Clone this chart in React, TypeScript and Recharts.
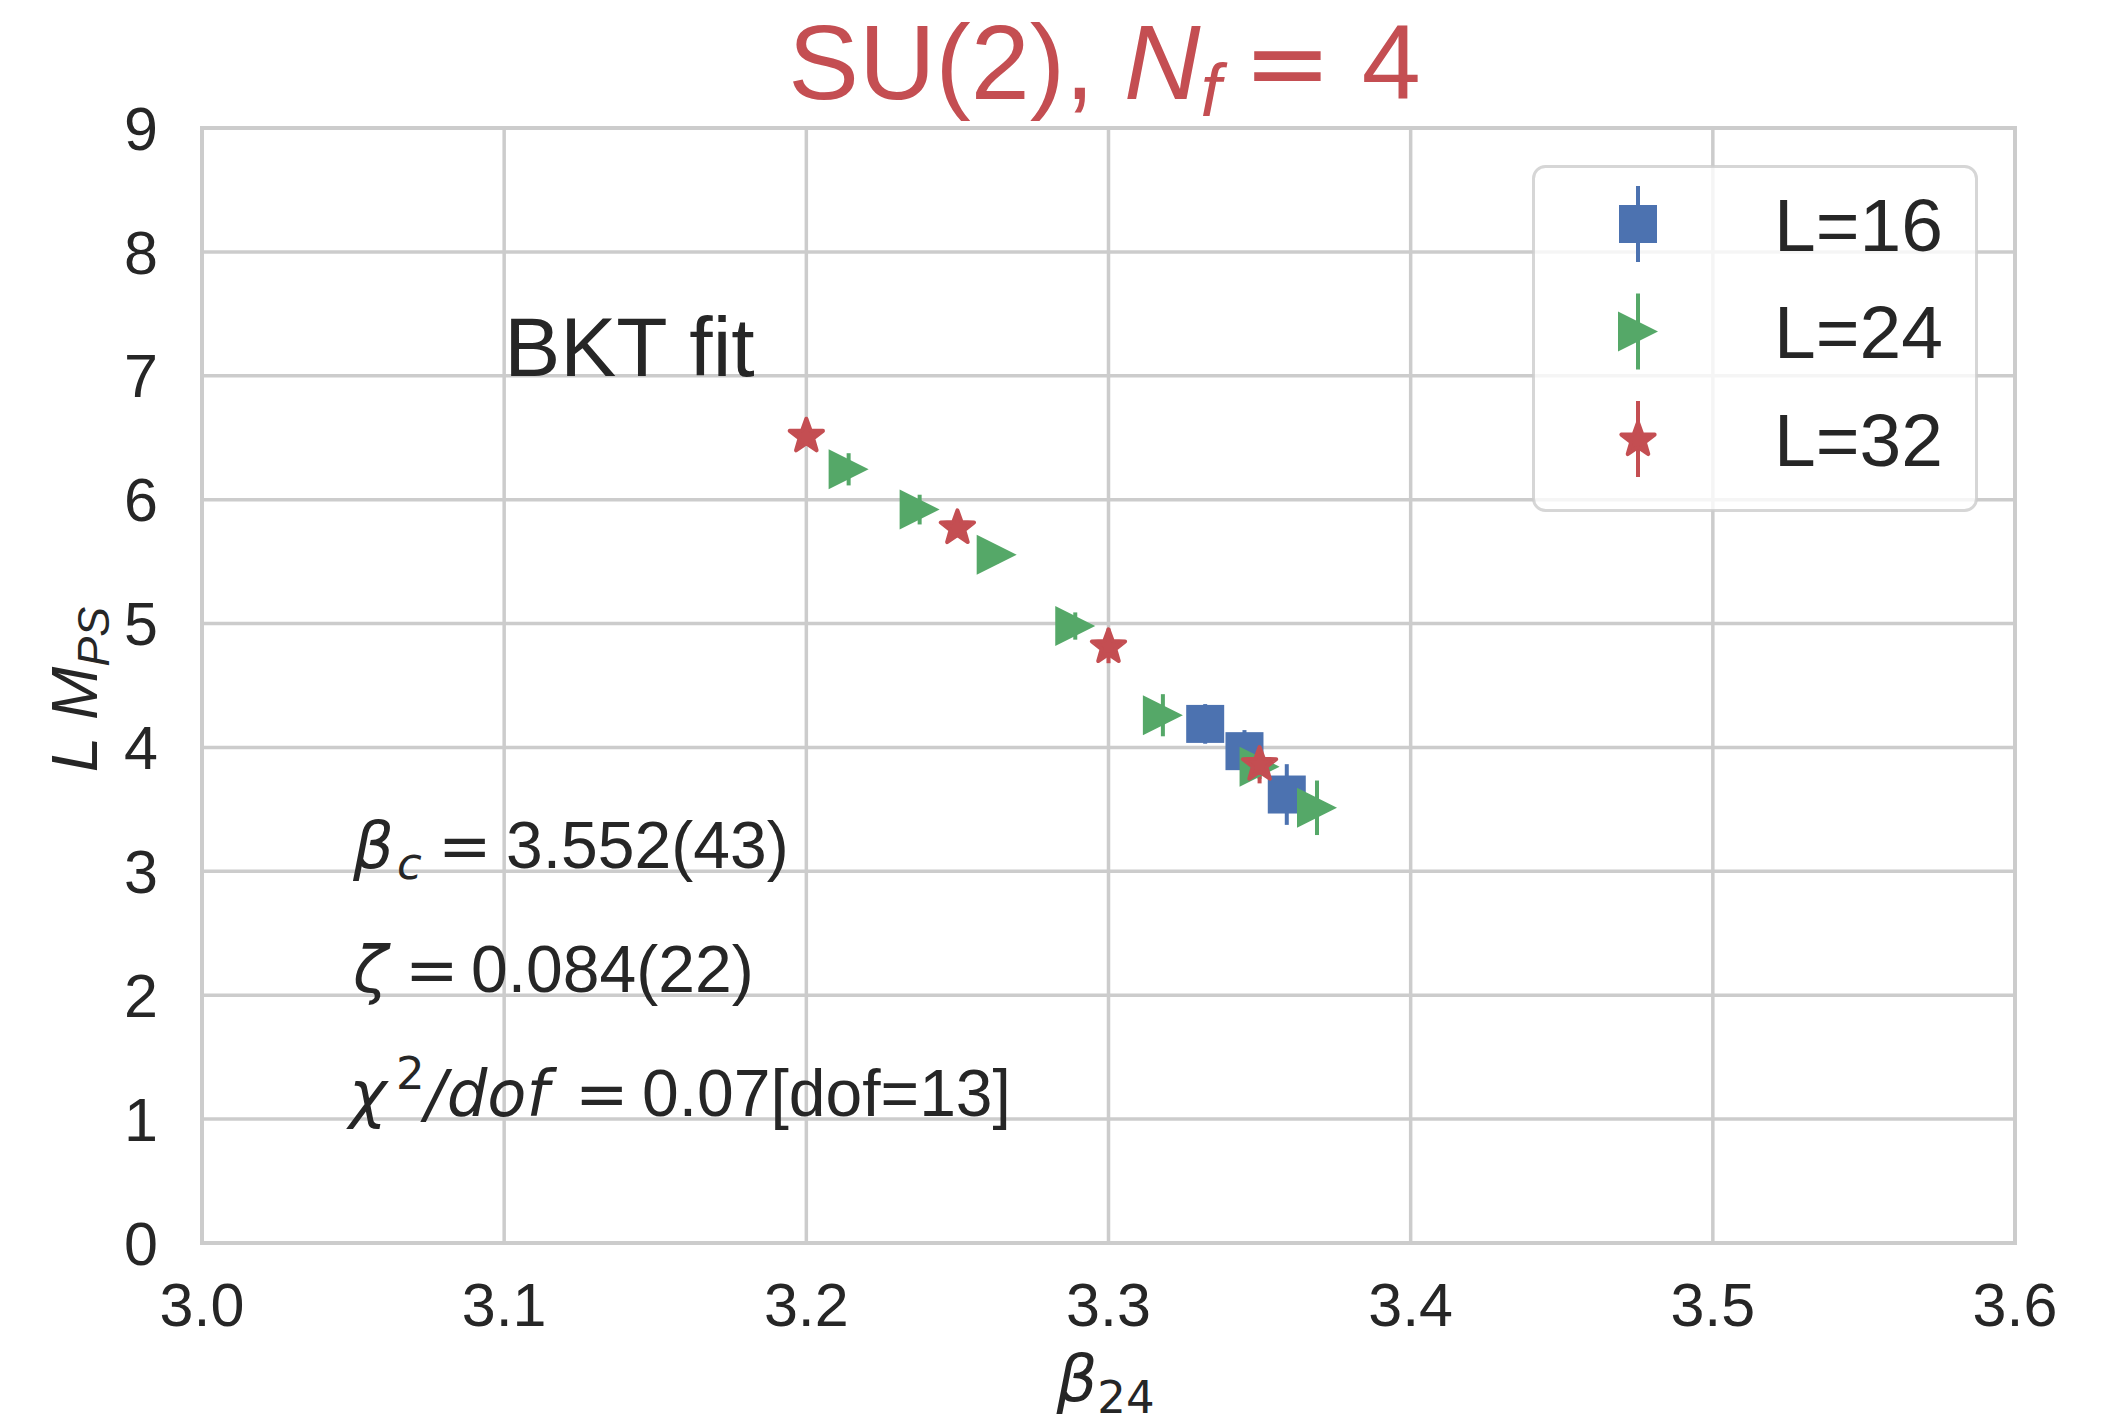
import {
  ScatterChart,
  Scatter,
  XAxis,
  YAxis,
  CartesianGrid,
  ErrorBar,
  ReferenceArea,
  ReferenceDot,
  Legend,
} from 'recharts'

// values
const betaL16 = [3.332, 3.345, 3.359]
const lmpsL16 = [4.19, 3.97, 3.62]
const errL16 = [0.16, 0.17, 0.245]

const betaL24 = [3.214, 3.2375, 3.263, 3.289, 3.318, 3.35, 3.369]
const lmpsL24 = [6.245, 5.92, 5.556, 4.98, 4.26, 3.845, 3.513]
const errL24 = [0.13, 0.12, 0.07, 0.11, 0.17, 0.1, 0.22]

const betaL32 = [3.2, 3.25, 3.3, 3.35]
const lmpsL32 = [6.52, 5.78, 4.82, 3.87]
const errL32 = [0.05, 0.05, 0.14, 0.16]

const xTicks = [3.0, 3.1, 3.2, 3.3, 3.4, 3.5, 3.6]
const yTicks = [0, 1, 2, 3, 4, 5, 6, 7, 8, 9]
const seriesNames = ['L=16', 'L=24', 'L=32']

const BLUE = '#4C72B0'
const GREEN = '#55A868'
const RED = '#C44E52'
const INK = '#262626'
const GRID = '#cccccc'
const FONT = "'Liberation Sans', Arial, sans-serif"
const MATH = "'DejaVu Sans', sans-serif"

const toRows = (xs: number[], ys: number[], es: number[]) =>
  xs.map((x, i) => ({ x, y: ys[i], err: es[i] }))

const dataL16 = toRows(betaL16, lmpsL16, errL16)
const dataL24 = toRows(betaL24, lmpsL24, errL24)
const dataL32 = toRows(betaL32, lmpsL32, errL32)

function starPoints(cx: number, cy: number, r: number, ri: number) {
  const pts: string[] = []
  for (let i = 0; i < 10; i++) {
    const rad = i % 2 === 0 ? r : ri
    const a = -Math.PI / 2 + (i * Math.PI) / 5
    pts.push(`${cx + rad * Math.cos(a)},${cy + rad * Math.sin(a)}`)
  }
  return pts.join(' ')
}

const SquareMark = ({ cx, cy }: any) => (
  <rect x={cx - 19} y={cy - 19} width={38} height={38} fill={BLUE} />
)
const TriangleMark = ({ cx, cy }: any) => (
  <polygon
    points={`${cx + 20},${cy} ${cx - 20},${cy - 20} ${cx - 20},${cy + 20}`}
    fill={GREEN}
  />
)
const StarMark = ({ cx, cy }: any) => (
  <polygon
    points={starPoints(cx, cy + 1, 17.5, 7.2)}
    fill={RED}
    stroke={RED}
    strokeWidth={4}
    strokeLinejoin="round"
  />
)

const marks = [SquareMark, TriangleMark, StarMark]
const markColors = [BLUE, GREEN, RED]

function LegendBox() {
  return (
    <svg width={446} height={347} style={{ display: 'block' }}>
      <rect
        x={1.5}
        y={1.5}
        width={443}
        height={344}
        rx={12}
        fill="rgba(255,255,255,0.8)"
        stroke="rgba(204,204,204,0.8)"
        strokeWidth={3}
      />
      {seriesNames.map((name, i) => {
        const cy = 59 + i * 107.5
        const Mark = marks[i]
        return (
          <g key={name}>
            <line x1={106} x2={106} y1={cy - 38} y2={cy + 38} stroke={markColors[i]} strokeWidth={4} />
            <Mark cx={106} cy={cy} />
            <text x={242} y={cy + 26.5} fontSize={75} fontFamily={FONT} fill={INK}>
              {name}
            </text>
          </g>
        )
      })}
    </svg>
  )
}

const XLabel = ({ viewBox }: any) => {
  const cx = viewBox.x + viewBox.width / 2
  return (
    <text x={cx - 3} y={viewBox.y + 158} textAnchor="middle" fontFamily={MATH} fill={INK} fontSize={64}>
      <tspan fontStyle="italic">β</tspan>
      <tspan fontSize={45} dy={12}>24</tspan>
    </text>
  )
}

const YLabel = ({ viewBox }: any) => {
  const cy = viewBox.y + viewBox.height / 2 + 4
  const bx = 97
  return (
    <text
      x={bx}
      y={cy}
      transform={`rotate(-90, ${bx}, ${cy})`}
      textAnchor="middle"
      fontFamily={FONT}
      fill={INK}
      fontSize={64}
      fontStyle="italic"
    >
      <tspan>{'L M'}</tspan>
      <tspan fontSize={45} dy={12}>PS</tspan>
    </text>
  )
}

const Title = ({ cx, cy }: any) => (
  <text x={cx - 4} y={cy - 29} textAnchor="middle" fill={RED} fontSize={106} fontFamily={FONT}>
    <tspan>{'SU(2), '}</tspan>
    <tspan fontStyle="italic">N</tspan>
    <tspan fontStyle="italic" fontSize={74} dy={17}>f</tspan>
    <tspan fontFamily={MATH} dy={-17} dx={22}>=</tspan>
    <tspan dx={30}>4</tspan>
  </text>
)

const BktText = ({ cx, cy }: any) => (
  <text x={cx} y={cy} fontSize={84} fontFamily={FONT} fill={INK}>
    BKT fit
  </text>
)

// mathtext-like annotations, segments placed at measured offsets from the anchor
const BetaText = ({ cx, cy }: any) => (
  <text y={cy - 3} fontSize={66} fontFamily={FONT} fill={INK}>
    <tspan x={cx} fontFamily={MATH} fontStyle="italic" fontSize={64}>β</tspan>
    <tspan x={cx + 44} fontFamily={MATH} fontStyle="italic" fontSize={45} dy={11}>c</tspan>
    <tspan x={cx + 85} fontFamily={MATH} fontSize={64} dy={-11}>=</tspan>
    <tspan x={cx + 153}>3.552(43)</tspan>
  </text>
)

const ZetaText = ({ cx, cy }: any) => (
  <text y={cy - 3} fontSize={66} fontFamily={FONT} fill={INK}>
    <tspan x={cx} fontFamily={MATH} fontStyle="italic" fontSize={64}>ζ</tspan>
    <tspan x={cx + 52} fontFamily={MATH} fontSize={64}>=</tspan>
    <tspan x={cx + 118}>0.084(22)</tspan>
  </text>
)

const ChiText = ({ cx, cy }: any) => (
  <text y={cy - 3} fontSize={66} fontFamily={FONT} fill={INK}>
    <tspan x={cx - 4} fontFamily={MATH} fontStyle="italic" fontSize={64}>χ</tspan>
    <tspan x={cx + 43} fontFamily={MATH} fontSize={45} dy={-27}>2</tspan>
    <tspan x={cx + 72} fontFamily={MATH} fontStyle="italic" fontSize={64} dy={27}>/dof</tspan>
    <tspan x={cx + 222} fontFamily={MATH} fontSize={64}>=</tspan>
    <tspan x={cx + 289}>0.07[dof=13]</tspan>
  </text>
)

export default function App() {
  return (
    <div style={{ position: 'absolute', left: 0, top: 0, width: 2111, height: 1424, background: '#fff' }}>
      <ScatterChart width={2111} height={1424} margin={{ top: 128, right: 96, bottom: 0, left: 0 }}>
        <CartesianGrid stroke={GRID} strokeWidth={3.5} />
        <XAxis
          type="number"
          dataKey="x"
          domain={[3.0, 3.6]}
          ticks={xTicks}
          tickFormatter={(v: number) => v.toFixed(1)}
          height={181}
          axisLine={false}
          tickLine={false}
          tickSize={0}
          tickMargin={40}
          tick={{ fontSize: 61, fill: INK, fontFamily: FONT }}
          interval={0}
          label={<XLabel />}
        />
        <YAxis
          type="number"
          dataKey="y"
          domain={[0, 9]}
          ticks={yTicks}
          width={202}
          axisLine={false}
          tickLine={false}
          tickSize={0}
          tickMargin={44}
          tick={{ fontSize: 61, fill: INK, fontFamily: FONT }}
          interval={0}
          label={<YLabel />}
        />
        <ReferenceArea x1={3.0} x2={3.6} y1={0} y2={9} fill="none" stroke={GRID} strokeWidth={4} />
        <Scatter name="L=16" data={dataL16} shape={<SquareMark />} isAnimationActive={false}>
          <ErrorBar dataKey="err" direction="y" width={0} stroke={BLUE} strokeWidth={4} isAnimationActive={false} />
        </Scatter>
        <Scatter name="L=24" data={dataL24} shape={<TriangleMark />} isAnimationActive={false}>
          <ErrorBar dataKey="err" direction="y" width={0} stroke={GREEN} strokeWidth={4} isAnimationActive={false} />
        </Scatter>
        <Scatter name="L=32" data={dataL32} shape={<StarMark />} isAnimationActive={false}>
          <ErrorBar dataKey="err" direction="y" width={0} stroke={RED} strokeWidth={4} isAnimationActive={false} />
        </Scatter>
        <ReferenceDot x={3.3} y={9} r={0} shape={<Title />} ifOverflow="visible" />
        <ReferenceDot x={3.1} y={7} r={0} shape={<BktText />} ifOverflow="visible" />
        <ReferenceDot x={3.05} y={3} r={0} shape={<BetaText />} ifOverflow="visible" />
        <ReferenceDot x={3.05} y={2} r={0} shape={<ZetaText />} ifOverflow="visible" />
        <ReferenceDot x={3.05} y={1} r={0} shape={<ChiText />} ifOverflow="visible" />
        <Legend
          layout="vertical"
          align="center"
          verticalAlign="middle"
          content={() => <LegendBox />}
          wrapperStyle={{ left: 1532, top: 165, width: 446, height: 347 }}
        />
      </ScatterChart>
    </div>
  )
}
